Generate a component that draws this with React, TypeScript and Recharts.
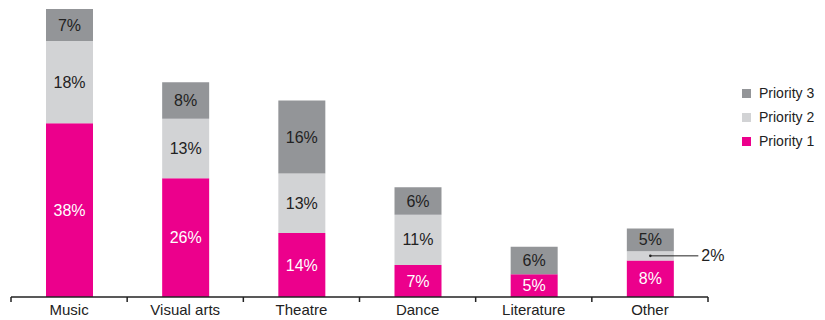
import { BarChart, Bar, XAxis, YAxis, LabelList } from 'recharts'

const categories = ['Music', 'Visual arts', 'Theatre', 'Dance', 'Literature', 'Other']
const priority1 = [38, 26, 14, 7, 5, 8]
const priority2 = [18, 13, 13, 11, 0, 2]
const priority3 = [7, 8, 16, 6, 6, 5]

const COLORS = { p1: '#ec008c', p2: '#d2d3d5', p3: '#939598' }
const FONT = '"Liberation Sans", Arial, sans-serif'

const CHART_W = 817
const CHART_H = 312
const MARGIN = { top: 1, right: 117, left: 3, bottom: 0 }
const STEP = (CHART_W - MARGIN.left - MARGIN.right) / categories.length

const data = categories.map((name, i) => ({
  name,
  p1: priority1[i],
  p2: priority2[i],
  p3: priority3[i],
}))

function CategoryTick(props: any) {
  const { x, y, payload, index } = props
  const left = x - STEP / 2
  return (
    <g>
      <line x1={left} y1={y - 8} x2={left} y2={y - 3} stroke="#222" strokeWidth={1.5} />
      {index === categories.length - 1 && (
        <line x1={x + STEP / 2} y1={y - 8} x2={x + STEP / 2} y2={y - 3} stroke="#222" strokeWidth={1.5} />
      )}
      <text x={x} y={y + 10} textAnchor="middle" fill="#222" fontSize={15} fontFamily={FONT}>
        {payload.value}
      </text>
    </g>
  )
}

// small segments get their label outside, joined by a leader line
const makeLabel = (color: string, outside?: string) => (props: any) => {
  const { x, y, width, height, value } = props
  if (!value) return null
  const cx = x + width / 2
  const cy = y + height / 2
  const cat = categories[Math.floor((cx - MARGIN.left) / STEP)]
  if (cat === outside) {
    return (
      <g>
        <circle cx={cx} cy={cy} r={1.3} fill="#222" />
        <line x1={cx} y1={cy} x2={cx + 48} y2={cy} stroke="#222" strokeWidth={1} />
        <text x={cx + 51} y={cy} dominantBaseline="central" fill="#222" fontSize={16} fontFamily={FONT}>
          {value}%
        </text>
      </g>
    )
  }
  return (
    <text x={cx} y={cy} textAnchor="middle" dominantBaseline="central" fill={color} fontSize={16} fontFamily={FONT}>
      {value}%
    </text>
  )
}

const legendItems = [
  { label: 'Priority 3', color: COLORS.p3 },
  { label: 'Priority 2', color: COLORS.p2 },
  { label: 'Priority 1', color: COLORS.p1 },
]

export default function App() {
  return (
    <div style={{ position: 'relative', width: CHART_W, height: CHART_H }}>
      <BarChart width={CHART_W} height={CHART_H} data={data} margin={MARGIN} barSize={47}>
        <XAxis
          dataKey="name"
          height={23}
          tickLine={false}
          axisLine={{ stroke: '#222', strokeWidth: 1.5 }}
          tick={<CategoryTick />}
          interval={0}
        />
        <YAxis hide domain={[0, 63]} />
        <Bar dataKey="p1" stackId="a" fill={COLORS.p1} isAnimationActive={false}>
          <LabelList dataKey="p1" content={makeLabel('#ffffff')} />
        </Bar>
        <Bar dataKey="p2" stackId="a" fill={COLORS.p2} isAnimationActive={false}>
          <LabelList dataKey="p2" content={makeLabel('#222', 'Other')} />
        </Bar>
        <Bar dataKey="p3" stackId="a" fill={COLORS.p3} isAnimationActive={false}>
          <LabelList dataKey="p3" content={makeLabel('#222')} />
        </Bar>
      </BarChart>
      <div
        style={{
          position: 'absolute',
          left: 734,
          top: 73,
          fontFamily: FONT,
          fontSize: 14,
          color: '#222',
          whiteSpace: 'nowrap',
        }}
      >
        {legendItems.map((it) => (
          <div key={it.label} style={{ height: 24, lineHeight: '24px', display: 'flex', alignItems: 'center' }}>
            <span style={{ width: 9, height: 9, background: it.color, display: 'inline-block', marginRight: 8 }} />
            {it.label}
          </div>
        ))}
      </div>
    </div>
  )
}
